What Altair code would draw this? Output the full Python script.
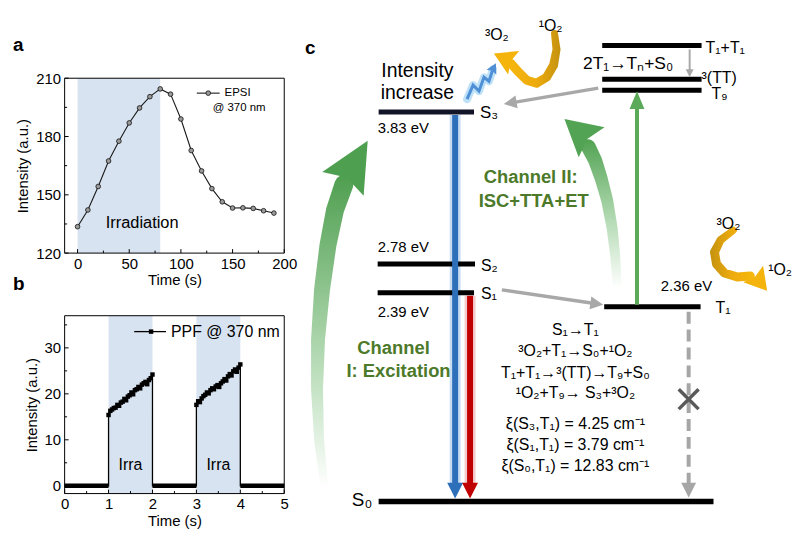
import math
import altair as alt
import pandas as pd

FONT = "Liberation Sans"

# ---------------- panel a data ----------------
a_time = [0, 10, 20, 30, 40, 50, 60, 70, 80, 90, 100, 110, 120, 130, 140, 150, 160, 170, 180, 190]
a_intensity = [133.6, 142.2, 154.3, 167.4, 177.6, 187.0, 194.7, 200.5, 204.5, 201.8,
               189.0, 172.8, 162.3, 153.2, 146.4, 143.2, 143.3, 143.0, 141.8, 140.6]
a_irradiation = [0, 80]
a_xticks = [0, 50, 100, 150, 200]
a_yticks = [120, 150, 180, 210]
a_xminor = [25, 75, 125, 175]
a_yminor = [135, 165, 195]

# ---------------- panel b data ----------------
b_t1 = [1.00, 1.04, 1.08, 1.12, 1.16, 1.20, 1.24, 1.28, 1.32, 1.36, 1.40, 1.44, 1.48,
        1.52, 1.56, 1.60, 1.64, 1.68, 1.72, 1.76, 1.80, 1.84, 1.88, 1.92, 1.96, 2.00]
b_i1 = [15.4, 16.3, 16.6, 16.9, 17.0, 17.6, 17.4, 18.1, 18.3, 18.9, 18.6, 19.4, 19.7,
        20.3, 19.9, 20.8, 21.0, 21.5, 21.2, 22.0, 22.3, 22.6, 22.1, 23.0, 23.4, 24.2]
b_t2 = [3.00, 3.04, 3.08, 3.12, 3.16, 3.20, 3.24, 3.28, 3.32, 3.36, 3.40, 3.44, 3.48,
        3.52, 3.56, 3.60, 3.64, 3.68, 3.72, 3.76, 3.80, 3.84, 3.88, 3.92, 3.96, 4.00]
b_i2 = [17.6, 18.4, 18.2, 19.0, 19.5, 19.8, 20.3, 20.1, 20.8, 21.2, 21.0, 21.6, 21.9,
        21.5, 22.3, 22.7, 23.2, 22.9, 23.8, 24.3, 24.0, 24.9, 25.3, 24.8, 25.7, 26.4]
b_dark = [(0, 1), (2, 3), (4, 5)]
b_irradiation = [(1, 2), (3, 4)]
b_xticks = [0, 1, 2, 3, 4, 5]
b_yticks = [0, 10, 20, 30]
b_xminor = [0.5, 1.5, 2.5, 3.5, 4.5]
b_yminor = [5, 15, 25, 35]

# ---------------- panel c data (diagram coordinates) ----------------
c_levels = [  # label, x start, x end, y, colour
    ("S0", 381, 718, 503, "#000000"),
    ("S1", 380, 477, 293, "#000000"),
    ("S2", 380, 478, 264, "#000000"),
    ("S3", 381, 477, 111, "#121528"),
    ("T1", 608, 705, 307, "#000000"),
    ("T9", 606, 706, 89, "#000000"),
    ("3TT", 606, 706, 78, "#000000"),
    ("T1T1", 606, 706, 44, "#000000"),
]
c_labels_left = [
    ("S₀", 354, 502, 19), ("S₁", 484, 294, 16), ("S₂", 484, 266, 16), ("S₃", 483, 112, 17),
    ("T₁", 720, 308, 16), ("T₉", 716, 93, 16), ("³(TT)", 706, 77, 16), ("T₁+T₁", 710, 47, 16),
    ("2.39 eV", 380, 312, 15), ("2.78 eV", 380, 247, 15), ("3.83 eV", 380, 127, 15),
    ("2.36 eV", 665, 286, 15),
]
c_labels_center = [
    ("Intensity", 420, 70, 19.5), ("increase", 420, 92, 19.5),
    ("2T₁→Tₙ+S₀", 632, 63, 17.5),
    ("S₁→T₁", 579, 330, 16),
    ("³O₂+T₁→S₀+¹O₂", 579, 352, 16),
    ("T₁+T₁→³(TT)→T₉+S₀", 579, 374, 16),
    ("¹O₂+T₉→ S₃+³O₂", 579, 394, 16),
    ("ξ(S₃,T₁) = 4.25 cm⁻¹", 579, 425, 16),
    ("ξ(S₁,T₁) = 3.79 cm⁻¹", 579, 446, 16),
    ("ξ(S₀,T₁) = 12.83 cm⁻¹", 579, 467, 16),
    ("³O₂", 500, 34, 16), ("¹O₂", 554, 24, 16),
    ("³O₂", 733, 224, 16), ("¹O₂", 785, 270, 16),
]
c_labels_green = [
    ("Channel", 396, 349), ("I: Excitation", 401, 372),
    ("Channel II:", 534, 176), ("ISC+TTA+ET", 537, 201),
]
# straight arrows: x0, y0, tip x, tip y, line width, head width, head length, colour
c_arrows = [
    (458, 114, 458, 500, 6, 16, 16, "#2e6fba"),
    (473, 296, 473, 500, 6, 16, 16, "#c00000"),
    (641, 305, 641, 90, 4, 15, 18, "#5aaa5a"),
    (505, 290, 607, 305, 3.5, 13, 13, "#a8a8a8"),
    (602, 87, 507, 103, 3.5, 13, 13, "#a8a8a8"),
    (694, 48, 694, 76, 2, 8, 8, "#a8a8a8"),
]
c_dashed = (693, 312, 693, 499, 4, 15, 15, "#a6a6a6")
c_halos = [(458, 114, 458, 488, 11, "#c9ddf2"), (473, 296, 473, 488, 11, "#f4c9c9")]
c_cross = [(683, 390, 703, 410), (683, 410, 703, 390)]
# curved arrows (centre line points and band widths) and their heads
g1_x = [326, 321, 319, 320, 324, 330, 337, 346]
g1_y = [485, 440, 390, 340, 290, 245, 210, 184]
g1_w = [8, 10, 12, 14, 16, 17, 18, 19]
g1_head = (370, 140, 343, 187, 48, 50)
g2_x = [621, 619, 616, 611, 605, 599, 592]
g2_y = [284, 255, 228, 200, 178, 160, 146]
g2_w = [9, 10, 11, 12, 13, 14, 15]
g2_head = (568, 118, 596, 142, 40, 36)
o1_x = [558, 560, 557, 550, 540, 530, 521, 514]
o1_y = [32, 48, 64, 76, 82, 79, 70, 62]
o1_w = [7, 8, 9, 9, 9, 9, 9, 9]
o1_head = (497, 52, 516, 61, 26, 22)
o2_x = [738, 725, 719, 721, 729, 742, 755]
o2_y = [230, 240, 252, 264, 273, 277, 276]
o2_w = [7, 8, 9, 9, 9, 9, 9]
o2_head = (772, 291, 757, 273, 26, 22)
sq_x = [470, 476, 482, 487, 492, 496]
sq_y = [98, 84, 90, 76, 80, 68]
sq_head = (499, 62, 496, 68, 11, 10)

ONE = pd.DataFrame({"k": [0]})


def head_path(w, l, notch=1.0):
    return f"M0,0L{-w / 2:.1f},{l:.1f}L0,{l * notch:.1f}L{w / 2:.1f},{l:.1f}Z"


def angle_of(x0, y0, x1, y1):
    return math.degrees(math.atan2(x1 - x0, -(y1 - y0))) % 360


# ================= panel a =================
AW, AH = 221, 176
xa_scale = alt.Scale(domain=[-12.5, 200], nice=False, zero=False)
ya_scale = alt.Scale(domain=[120, 210], nice=False, zero=False)
xa_axis = alt.Axis(values=a_xticks, title="Time (s)", domain=False, ticks=False, grid=False,
                   labelPadding=3, titlePadding=2, labelFlush=False)
ya_axis = alt.Axis(values=a_yticks, title="Intensity (a.u.)", domain=False, ticks=False,
                   grid=False, labelPadding=4, titlePadding=5, labelFlush=False)


def XA(f="x"):
    return alt.X(f"{f}:Q", scale=xa_scale, axis=xa_axis)


def YA(f="y"):
    return alt.Y(f"{f}:Q", scale=ya_scale, axis=ya_axis)


dfa = pd.DataFrame({"x": a_time, "y": a_intensity})
a_layers = [
    alt.Chart(pd.DataFrame({"x": [a_irradiation[0]], "x2": [a_irradiation[1]]}))
    .mark_rect(color="#d7e3f0").encode(x=XA(), x2="x2:Q", y=alt.value(0), y2=alt.value(AH)),
    alt.Chart(dfa).mark_line(color="#1a1a1a", strokeWidth=1.1).encode(x=XA(), y=YA()),
    alt.Chart(dfa).mark_circle(size=22, color="#9a9a9a", stroke="#111", strokeWidth=0.8, opacity=1)
    .encode(x=XA(), y=YA()),
    alt.Chart(pd.DataFrame({"x": a_xticks})).mark_rule(color="#000", strokeWidth=1)
    .encode(x=XA(), y=alt.value(AH), y2=alt.value(AH - 4)),
    alt.Chart(pd.DataFrame({"x": a_xminor})).mark_rule(color="#000", strokeWidth=1)
    .encode(x=XA(), y=alt.value(AH), y2=alt.value(AH - 2.5)),
    alt.Chart(pd.DataFrame({"y": a_yticks})).mark_rule(color="#000", strokeWidth=1)
    .encode(y=YA(), x=alt.value(0), x2=alt.value(4)),
    alt.Chart(pd.DataFrame({"y": a_yminor})).mark_rule(color="#000", strokeWidth=1)
    .encode(y=YA(), x=alt.value(0), x2=alt.value(2.5)),
    alt.Chart(ONE).mark_rect(fillOpacity=0, stroke="#000", strokeWidth=1)
    .encode(x=alt.value(0), x2=alt.value(AW), y=alt.value(0), y2=alt.value(AH)),
    # legend
    alt.Chart(ONE).mark_rule(color="#1a1a1a", strokeWidth=1.1)
    .encode(x=alt.value(133), x2=alt.value(156), y=alt.value(15)),
    alt.Chart(ONE).mark_circle(size=22, color="#9a9a9a", stroke="#111", strokeWidth=0.8, opacity=1)
    .encode(x=alt.value(144.5), y=alt.value(15)),
    alt.Chart(ONE).mark_text(text="EPSI", font=FONT, fontSize=11.5, align="left", baseline="middle")
    .encode(x=alt.value(161), y=alt.value(15)),
    alt.Chart(ONE).mark_text(text="@ 370 nm", font=FONT, fontSize=11.5, align="left", baseline="middle")
    .encode(x=alt.value(149), y=alt.value(30)),
    alt.Chart(ONE).mark_text(text="Irradiation", font=FONT, fontSize=16.5, align="center", baseline="middle")
    .encode(x=alt.value(78), y=alt.value(146)),
    # panel letters
    alt.Chart(ONE).mark_text(text="a", font=FONT, fontSize=19, fontWeight="bold", align="left",
                             baseline="alphabetic").encode(x=alt.value(-52), y=alt.value(-27)),
    alt.Chart(ONE).mark_text(text="b", font=FONT, fontSize=19, fontWeight="bold", align="left",
                             baseline="alphabetic").encode(x=alt.value(-52), y=alt.value(213)),
    # layout spacer (invisible)
    alt.Chart(ONE).mark_rule(opacity=0, color="#fff")
    .encode(x=alt.value(-57), x2=alt.value(234), y=alt.value(-69), y2=alt.value(215)),
]
chart_a = alt.layer(*a_layers).properties(width=AW, height=AH)

# ================= panel b =================
BW, BH = 221, 179
xb_scale = alt.Scale(domain=[0, 5], nice=False, zero=False)
yb_scale = alt.Scale(domain=[-1.7, 37], nice=False, zero=False)
xb_axis = alt.Axis(values=b_xticks, title="Time (s)", domain=False, ticks=False, grid=False,
                   labelPadding=3, titlePadding=2, labelFlush=False)
yb_axis = alt.Axis(values=b_yticks, title="Intensity (a.u.)", domain=False, ticks=False,
                   grid=False, labelPadding=4, titlePadding=5, labelFlush=False)


def XB(f="x"):
    return alt.X(f"{f}:Q", scale=xb_scale, axis=xb_axis)


def YB(f="y"):
    return alt.Y(f"{f}:Q", scale=yb_scale, axis=yb_axis)


path_x = [0, 1] + b_t1 + [2, 3] + b_t2 + [4, 5]
path_y = [0, 0] + b_i1 + [0, 0] + b_i2 + [0, 0]
dfb_line = pd.DataFrame({"x": path_x, "y": path_y, "o": list(range(len(path_x)))})
dfb_pts = pd.DataFrame({"x": b_t1 + b_t2, "y": b_i1 + b_i2})

b_layers = [
    alt.Chart(pd.DataFrame({"x": [s for s, e in b_irradiation], "x2": [e for s, e in b_irradiation]}))
    .mark_rect(color="#d7e3f0").encode(x=XB(), x2="x2:Q", y=alt.value(0), y2=alt.value(BH)),
    alt.Chart(pd.DataFrame({"x": [s for s, e in b_dark], "x2": [e for s, e in b_dark], "y": [0, 0, 0]}))
    .mark_rule(color="#000", strokeWidth=4.5).encode(x=XB(), x2="x2:Q", y=YB()),
    alt.Chart(dfb_line).mark_line(color="#000", strokeWidth=1.3)
    .encode(x=XB(), y=YB(), order="o:Q"),
    alt.Chart(dfb_pts).mark_square(size=20, color="#000", opacity=1).encode(x=XB(), y=YB()),
    alt.Chart(pd.DataFrame({"x": b_xticks})).mark_rule(color="#000", strokeWidth=1)
    .encode(x=XB(), y=alt.value(BH), y2=alt.value(BH - 4)),
    alt.Chart(pd.DataFrame({"x": b_xminor})).mark_rule(color="#000", strokeWidth=1)
    .encode(x=XB(), y=alt.value(BH), y2=alt.value(BH - 2.5)),
    alt.Chart(pd.DataFrame({"y": b_yticks})).mark_rule(color="#000", strokeWidth=1)
    .encode(y=YB(), x=alt.value(0), x2=alt.value(4)),
    alt.Chart(pd.DataFrame({"y": b_yminor})).mark_rule(color="#000", strokeWidth=1)
    .encode(y=YB(), x=alt.value(0), x2=alt.value(2.5)),
    alt.Chart(ONE).mark_rect(fillOpacity=0, stroke="#000", strokeWidth=1)
    .encode(x=alt.value(0), x2=alt.value(BW), y=alt.value(0), y2=alt.value(BH)),
    alt.Chart(pd.DataFrame({"x": [(s + e) / 2 for s, e in b_irradiation], "t": ["Irra", "Irra"]}))
    .mark_text(font=FONT, fontSize=16, baseline="middle").encode(x=XB(), y=alt.value(150), text="t:N"),
    alt.Chart(ONE).mark_rule(color="#000", strokeWidth=1.3)
    .encode(x=alt.value(70), x2=alt.value(102), y=alt.value(16)),
    alt.Chart(ONE).mark_square(size=20, color="#000", opacity=1).encode(x=alt.value(87), y=alt.value(16)),
    alt.Chart(ONE).mark_text(text="PPF @ 370 nm", font=FONT, fontSize=16, align="left", baseline="middle")
    .encode(x=alt.value(107), y=alt.value(16)),
    alt.Chart(ONE).mark_rule(opacity=0, color="#fff")
    .encode(x=alt.value(-57), x2=alt.value(234), y=alt.value(-22), y2=alt.value(190)),
]
chart_b = alt.layer(*b_layers).properties(width=BW, height=BH)

# ================= panel c =================
C_TOP = 77
CW, CH = 495, 532 - C_TOP
XC = alt.Scale(domain=[300, 795], nice=False, zero=False)
YC = alt.Scale(domain=[C_TOP, 532], nice=False, zero=False, reverse=True)


def CX(f="x"):
    return alt.X(f"{f}:Q", scale=XC, axis=None)


def CY(f="y"):
    return alt.Y(f"{f}:Q", scale=YC, axis=None)


def rules(rows, dash=None):
    d = pd.DataFrame(rows, columns=["x", "y", "x2", "y2", "w", "c"])
    kw = dict(strokeCap="butt")
    if dash:
        kw["strokeDash"] = dash
    return alt.Chart(d).mark_rule(**kw).encode(
        x=CX(), y=CY(), x2="x2:Q", y2="y2:Q",
        size=alt.Size("w:Q", scale=None), color=alt.Color("c:N", scale=None))


def heads(rows):
    d = pd.DataFrame(rows, columns=["x", "y", "a", "p", "c"])
    return alt.Chart(d).mark_point(filled=True, opacity=1, strokeWidth=0, size=4).encode(
        x=CX(), y=CY(), angle=alt.Angle("a:Q", scale=None), shape=alt.Shape("p:N", scale=None),
        color=alt.Color("c:N", scale=None))


def trail(xs, ys, ws, stops, x1, y1, x2, y2):
    d = pd.DataFrame({"x": xs, "y": ys, "w": ws, "o": list(range(len(xs)))})
    grad = alt.LinearGradient(gradient="linear", x1=x1, y1=y1, x2=x2, y2=y2,
                              stops=[alt.GradientStop(color=c, offset=o) for o, c in stops])
    return alt.Chart(d).mark_trail(color=grad, opacity=1).encode(
        x=CX(), y=CY(), size=alt.Size("w:Q", scale=None), order="o:Q")


def texts(rows, **props):
    d = pd.DataFrame(rows, columns=["t", "x", "y", "fs"])
    base = dict(font=FONT, baseline="middle", color="#000")
    base.update(props)
    return alt.Chart(d).mark_text(**base).encode(
        x=CX(), y=CY(), text="t:N", size=alt.Size("fs:Q", scale=None))


body_rows, head_rows = [], []
for x0, y0, x1, y1, w, hw, hl, col in c_arrows:
    L = math.hypot(x1 - x0, y1 - y0)
    ux, uy = (x1 - x0) / L, (y1 - y0) / L
    body_rows.append((x0, y0, x1 - ux * hl * 0.8, y1 - uy * hl * 0.8, w, col))
    head_rows.append((x1, y1, angle_of(x0, y0, x1, y1), head_path(hw, hl), col))
x0, y0, x1, y1, w, hw, hl, col = c_dashed
dashed_rows = [(x0, y0, x1, y1 - hl * 0.8, w, col)]
head_rows.append((x1, y1, 180, head_path(hw, hl), col))
for hx, hy, bx, by, hw, hl, col in [
    g1_head + ("#4f9f50",), g2_head + ("#52a353",), o1_head + ("#f4b40c",),
    o2_head + ("#f4b40c",), sq_head + ("#4f8fd6",)]:
    head_rows.append((hx, hy, angle_of(bx, by, hx, hy), head_path(hw, hl, 0.85), col))

level_rows = [(x0, y, x1, y, 5.5 if n == "S0" else 5, c) for n, x0, x1, y, c in c_levels]
cross_rows = [(a, b, c, d, 3.5, "#595959") for a, b, c, d in c_cross]
halo_rows = [(a, b, c, d, w, col) for a, b, c, d, w, col in c_halos]

dfsq = pd.DataFrame({"x": sq_x, "y": sq_y, "o": list(range(len(sq_x)))})

c_layers = [
    trail(g1_x, g1_y, g1_w, [(0, "#ffffff"), (0.35, "#bfe0bf"), (1, "#4f9f50")], 0, 1, 0, 0),
    trail(g2_x, g2_y, g2_w, [(0, "#ffffff"), (0.45, "#b5dbb5"), (1, "#52a353")], 0, 1, 0, 0),
    trail(o1_x, o1_y, o1_w, [(0, "#f6b80d"), (0.55, "#eeab0e"), (1, "#c4920f")], 0, 0, 1, 0),
    trail(o2_x, o2_y, o2_w, [(0, "#c4920f"), (0.5, "#eeab0e"), (1, "#f6b80d")], 0, 0, 1, 0),
    alt.Chart(dfsq).mark_line(color="#bfe1f8", strokeWidth=8, strokeCap="round", strokeJoin="round")
    .encode(x=CX(), y=CY(), order="o:Q"),
    alt.Chart(dfsq).mark_line(color="#4f8fd6", strokeWidth=3).encode(x=CX(), y=CY(), order="o:Q"),
    rules(halo_rows),
    rules(level_rows),
    rules(body_rows),
    rules(dashed_rows, dash=[12, 6]),
    rules(cross_rows),
    heads(head_rows),
    texts(c_labels_left, align="left"),
    texts(c_labels_center, align="center"),
    texts([(t, x, y, 18.5) for t, x, y in c_labels_green], align="center", fontWeight="bold",
          color="#4c7a2a"),
    alt.Chart(ONE).mark_text(text="c", font=FONT, fontSize=19, fontWeight="bold", align="left",
                             baseline="alphabetic").encode(x=alt.value(7), y=alt.value(53 - C_TOP)),
]
chart_c = alt.layer(*c_layers).properties(width=CW, height=CH)

left = alt.vconcat(chart_a, chart_b, spacing=0)
chart = (
    alt.hconcat(left, chart_c, spacing=1)
    .properties(padding=0)
    .configure(font=FONT)
    .configure_view(stroke=None)
    .configure_axis(labelFont=FONT, titleFont=FONT, labelFontSize=15, titleFontSize=15,
                    titleFontWeight="normal", labelColor="#000", titleColor="#000")
)
chart.save("out.html", embed_options={"renderer": "svg", "actions": False})
